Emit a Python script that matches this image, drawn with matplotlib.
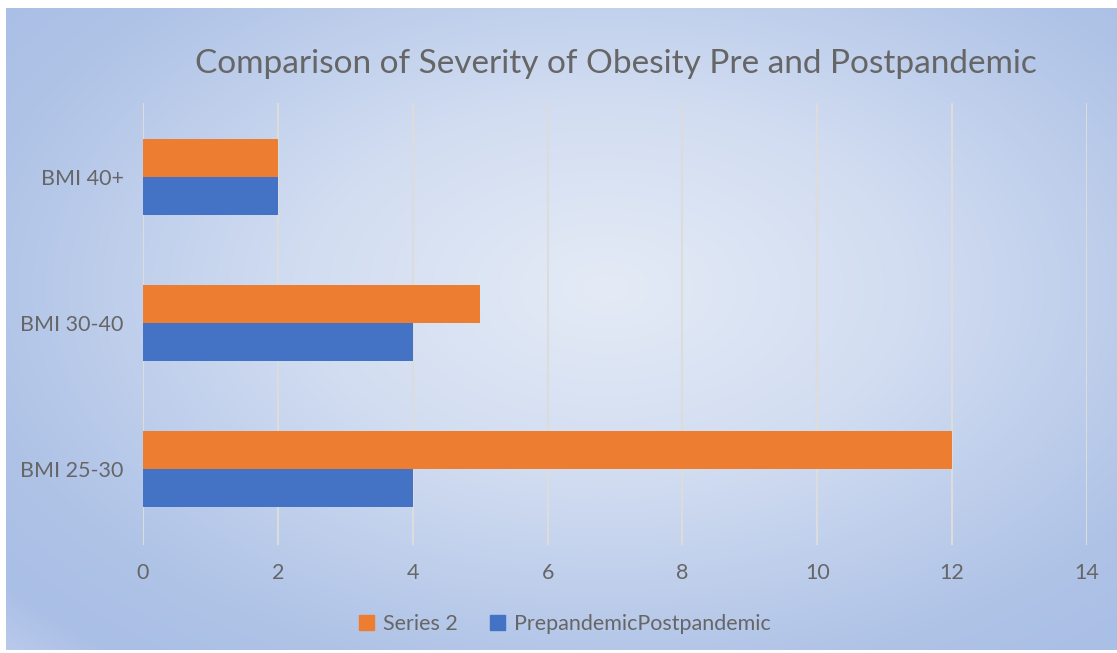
import numpy as np
import matplotlib.pyplot as plt
from matplotlib.colors import LinearSegmentedColormap
from matplotlib.patches import Patch

categories = ["BMI 25-30", "BMI 30-40", "BMI 40+"]
series2 = [12, 5, 2]
prepost = [4, 4, 2]
series_names = ["Series 2", "PrepandemicPostpandemic"]
xticks = [0, 2, 4, 6, 8, 10, 12, 14]

ORANGE = "#ED7D31"
BLUE = "#4472C4"
TEXT = "#666666"

plt.rcParams["font.family"] = ["Lato", "DejaVu Sans"]

fig = plt.figure(figsize=(11.17, 6.53), dpi=100)
fig.patch.set_facecolor("white")

# radial background
bg = fig.add_axes([6 / 1117, 3 / 653, 1 - 6 / 1117, 1 - 11 / 653], zorder=0)
W, H = 1111, 642
yy, xx = np.mgrid[0:H, 0:W]
r = np.sqrt(((xx - 600) / 700.0) ** 2 + ((yy - 280) / 430.0) ** 2)
cmap = LinearSegmentedColormap.from_list(
    "bg", [(0.0, "#e4ebf6"), (0.35, "#d2ddf1"), (0.75, "#afc3e7"),
           (0.9, "#aabfe6"), (1.0, "#bccbeb")])
bg.imshow(np.clip(r / 1.22, 0, 1), cmap=cmap, vmin=0, vmax=1, aspect="auto",
          interpolation="bilinear")
bg.axis("off")

ax = fig.add_axes([143 / 1117, 108 / 653, 944 / 1117, 442 / 653], zorder=1)
ax.patch.set_alpha(0)

y = np.arange(len(categories))
h = 0.26
ax.barh(y + h / 2, series2, height=h, color=ORANGE, zorder=3, label=series_names[0])
ax.barh(y - h / 2, prepost, height=h, color=BLUE, zorder=3, label=series_names[1])

ax.set_xlim(0, 14)
ax.set_ylim(-0.52, 2.51)
ax.set_xticks(xticks)
ax.set_yticks(y)
ax.set_yticklabels(categories)
ax.grid(axis="x", color="#dcdcdc", linewidth=1.5, zorder=1)
ax.tick_params(length=0, labelsize=15.5, colors=TEXT)
ax.tick_params(axis="x", pad=13)
ax.tick_params(axis="y", pad=14)
for s in ax.spines.values():
    s.set_visible(False)

fig.text(616 / 1117, 1 - 64 / 653, "Comparison of Severity of Obesity Pre and Postpandemic",
         ha="center", va="center", fontsize=24, color=TEXT)

handles = [Patch(color=ORANGE), Patch(color=BLUE)]
fig.legend(handles, series_names, loc="center", bbox_to_anchor=(565 / 1117, 1 - 624 / 653),
           ncol=2, frameon=False, fontsize=15.5, labelcolor=TEXT,
           handlelength=0.7, handleheight=0.7, handletextpad=0.4, columnspacing=1.5)

fig.savefig("out.png", dpi=100)
